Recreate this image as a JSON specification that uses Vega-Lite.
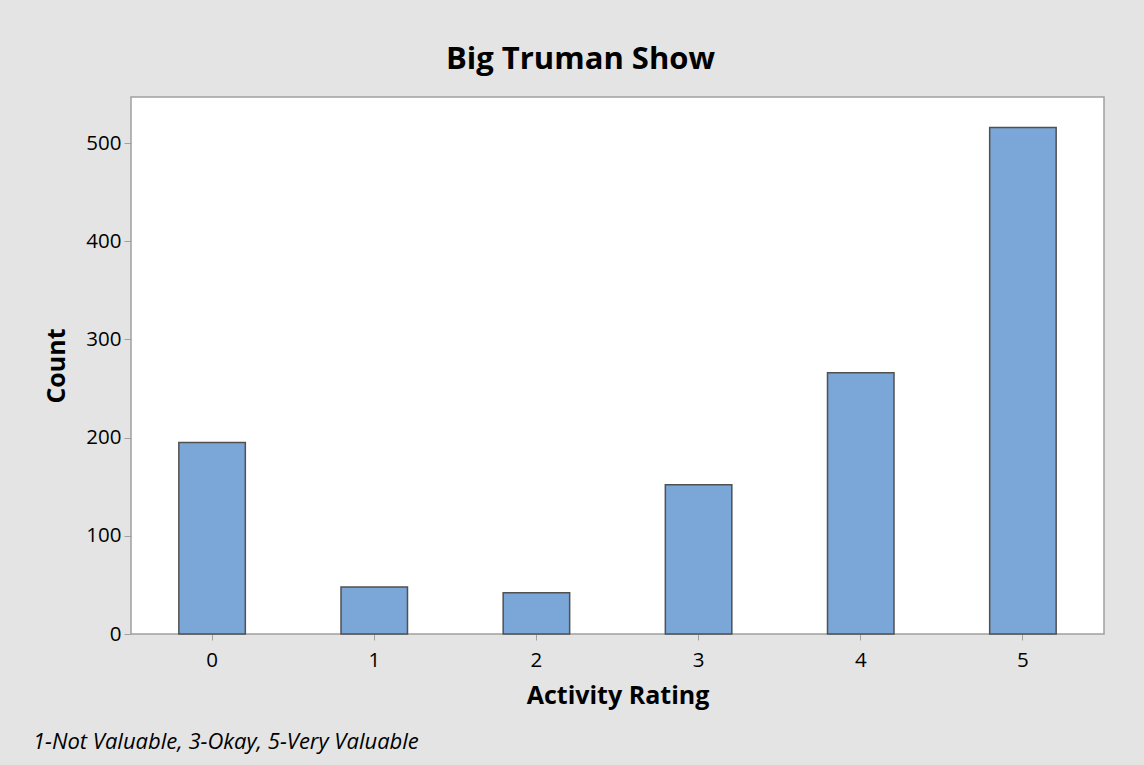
{
  "$schema": "https://vega.github.io/schema/vega-lite/v6.json",
  "background": "#e4e4e4",
  "padding": {"left": 32, "top": 44, "right": 40, "bottom": 14},
  "title": {
    "text": "Big Truman Show",
    "font": "Open Sans",
    "fontSize": 31,
    "fontWeight": "bold",
    "color": "#000000",
    "anchor": "middle",
    "offset": 20,
    "dx": 12
  },
  "config": {
    "font": "Open Sans",
    "view": {"stroke": "#a0a0a0", "strokeWidth": 1.5, "fill": "#ffffff"}
  },
  "data": {
    "values": [
      {"rating": "0", "count": 195},
      {"rating": "1", "count": 48},
      {"rating": "2", "count": 42},
      {"rating": "3", "count": 152},
      {"rating": "4", "count": 266},
      {"rating": "5", "count": 516}
    ]
  },
  "vconcat": [
    {
      "width": 973,
      "height": 537,
      "title": {
        "text": "1-Not Valuable, 3-Okay, 5-Very Valuable",
        "orient": "bottom",
        "anchor": "start",
        "frame": "group",
        "dx": -98,
        "offset": 23,
        "font": "Open Sans",
        "fontSize": 22,
        "fontStyle": "italic",
        "fontWeight": "normal",
        "color": "#000000"
      },
      "mark": {"type": "bar", "fill": "#7ba7d8", "stroke": "#505050", "strokeWidth": 1.5},
      "encoding": {
        "x": {
          "field": "rating",
          "type": "ordinal",
          "sort": null,
          "scale": {"paddingInner": 0.59, "paddingOuter": 0.295},
          "axis": {
            "title": "Activity Rating",
            "titleFont": "Open Sans",
            "titleFontSize": 25,
            "titleFontWeight": "bold",
            "titleColor": "#000000",
            "titlePadding": 13,
            "labelAngle": 0,
            "labelFontSize": 20.5,
            "labelColor": "#000000",
            "labelPadding": 10,
            "tickColor": "#a0a0a0",
            "tickSize": 6,
            "domain": false
          }
        },
        "y": {
          "field": "count",
          "type": "quantitative",
          "scale": {"domain": [0, 547], "nice": false},
          "axis": {
            "title": "Count",
            "titleFont": "Open Sans",
            "titleFontSize": 25,
            "titleFontWeight": "bold",
            "titleColor": "#000000",
            "titlePadding": 16,
            "values": [0, 100, 200, 300, 400, 500],
            "labelFontSize": 20.5,
            "labelColor": "#000000",
            "labelPadding": 3,
            "tickColor": "#a0a0a0",
            "tickSize": 7,
            "grid": false,
            "domain": false
          }
        }
      }
    }
  ]
}
